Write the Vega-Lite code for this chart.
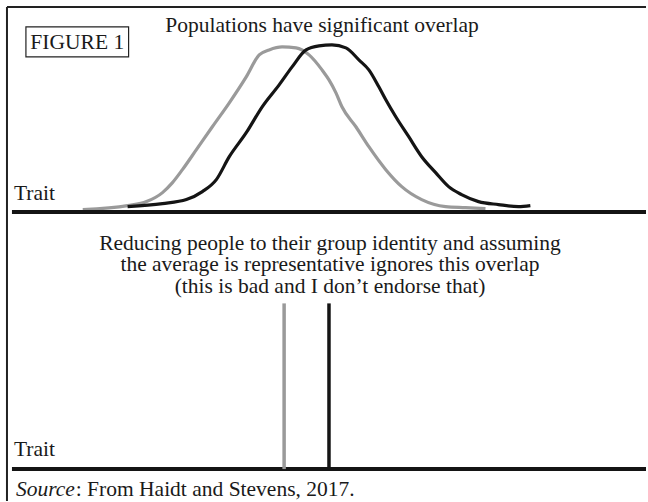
{
  "$schema": "https://vega.github.io/schema/vega-lite/v6.json",
  "width": 648,
  "height": 502,
  "autosize": {"type": "fit", "contains": "padding"},
  "padding": 0,
  "background": "white",
  "config": {"view": {"stroke": null}},
  "datasets": {
    "frame": [
      {"x": 7, "y": 7, "x2": 7, "y2": 502},
      {"x": 7, "y": 7, "x2": 648, "y2": 7}
    ],
    "box": [{"x": 26, "y": 27, "x2": 129, "y2": 57}],
    "baselines": [
      {"x": 12, "y": 212.5, "x2": 648, "y2": 212.5},
      {"x": 12, "y": 470, "x2": 648, "y2": 470}
    ],
    "means": [
      {"group": "A", "x": 285, "y": 304, "y2": 470},
      {"group": "B", "x": 330, "y": 304, "y2": 470}
    ],
    "curves": [
      {"group": "A", "i": 1, "x": 83, "y": 210},
      {"group": "A", "i": 2, "x": 128, "y": 206},
      {"group": "A", "i": 3, "x": 147, "y": 202},
      {"group": "A", "i": 4, "x": 163, "y": 193},
      {"group": "A", "i": 5, "x": 173, "y": 183},
      {"group": "A", "i": 6, "x": 183, "y": 170},
      {"group": "A", "i": 7, "x": 197, "y": 150},
      {"group": "A", "i": 8, "x": 213, "y": 127},
      {"group": "A", "i": 9, "x": 230, "y": 103},
      {"group": "A", "i": 10, "x": 247, "y": 77},
      {"group": "A", "i": 11, "x": 260, "y": 55},
      {"group": "A", "i": 12, "x": 270, "y": 50},
      {"group": "A", "i": 13, "x": 283, "y": 47},
      {"group": "A", "i": 14, "x": 297, "y": 48},
      {"group": "A", "i": 15, "x": 310, "y": 55},
      {"group": "A", "i": 16, "x": 323, "y": 70},
      {"group": "A", "i": 17, "x": 330, "y": 80},
      {"group": "A", "i": 18, "x": 337, "y": 93},
      {"group": "A", "i": 19, "x": 343, "y": 107},
      {"group": "A", "i": 20, "x": 357, "y": 127},
      {"group": "A", "i": 21, "x": 370, "y": 147},
      {"group": "A", "i": 22, "x": 387, "y": 170},
      {"group": "A", "i": 23, "x": 403, "y": 187},
      {"group": "A", "i": 24, "x": 423, "y": 200},
      {"group": "A", "i": 25, "x": 447, "y": 207},
      {"group": "A", "i": 26, "x": 467, "y": 208},
      {"group": "A", "i": 27, "x": 487, "y": 209},
      {"group": "B", "i": 1, "x": 128, "y": 207},
      {"group": "B", "i": 2, "x": 163, "y": 204},
      {"group": "B", "i": 3, "x": 187, "y": 200},
      {"group": "B", "i": 4, "x": 203, "y": 192},
      {"group": "B", "i": 5, "x": 217, "y": 180},
      {"group": "B", "i": 6, "x": 230, "y": 157},
      {"group": "B", "i": 7, "x": 247, "y": 133},
      {"group": "B", "i": 8, "x": 263, "y": 107},
      {"group": "B", "i": 9, "x": 280, "y": 85},
      {"group": "B", "i": 10, "x": 293, "y": 67},
      {"group": "B", "i": 11, "x": 307, "y": 50},
      {"group": "B", "i": 12, "x": 320, "y": 46},
      {"group": "B", "i": 13, "x": 333, "y": 45},
      {"group": "B", "i": 14, "x": 347, "y": 48},
      {"group": "B", "i": 15, "x": 360, "y": 60},
      {"group": "B", "i": 16, "x": 370, "y": 70},
      {"group": "B", "i": 17, "x": 380, "y": 87},
      {"group": "B", "i": 18, "x": 387, "y": 100},
      {"group": "B", "i": 19, "x": 397, "y": 117},
      {"group": "B", "i": 20, "x": 410, "y": 137},
      {"group": "B", "i": 21, "x": 423, "y": 157},
      {"group": "B", "i": 22, "x": 437, "y": 173},
      {"group": "B", "i": 23, "x": 450, "y": 187},
      {"group": "B", "i": 24, "x": 463, "y": 195},
      {"group": "B", "i": 25, "x": 480, "y": 202},
      {"group": "B", "i": 26, "x": 500, "y": 205},
      {"group": "B", "i": 27, "x": 520, "y": 207},
      {"group": "B", "i": 28, "x": 532, "y": 206}
    ],
    "centerText": [
      {"text": "Populations have significant overlap", "x": 323, "y": 32},
      {"text": "FIGURE 1", "x": 77.5, "y": 49},
      {"text": "Reducing people to their group identity and assuming", "x": 331, "y": 250},
      {"text": "the average is representative ignores this overlap", "x": 331, "y": 272},
      {"text": "(this is bad and I don’t endorse that)", "x": 331, "y": 294}
    ],
    "leftText": [
      {"text": "Trait", "x": 14, "y": 200},
      {"text": "Trait", "x": 14, "y": 457},
      {"text": ": From Haidt and Stevens, 2017.", "x": 76, "y": 497}
    ],
    "italicText": [
      {"text": "Source", "x": 16, "y": 497}
    ]
  },
  "layer": [
    {
      "data": {"name": "frame"},
      "mark": {"type": "rule", "stroke": "#222222", "strokeWidth": 2},
      "encoding": {
        "x": {"field": "x", "type": "quantitative", "scale": {"domain": [0, 648]}, "axis": null},
        "x2": {"field": "x2"},
        "y": {"field": "y", "type": "quantitative", "scale": {"domain": [0, 502], "reverse": true}, "axis": null},
        "y2": {"field": "y2"}
      }
    },
    {
      "data": {"name": "box"},
      "mark": {"type": "rect", "fill": null, "fillOpacity": 0, "stroke": "#222222", "strokeWidth": 1.2},
      "encoding": {
        "x": {"field": "x", "type": "quantitative", "scale": {"domain": [0, 648]}, "axis": null},
        "x2": {"field": "x2"},
        "y": {"field": "y", "type": "quantitative", "scale": {"domain": [0, 502], "reverse": true}, "axis": null},
        "y2": {"field": "y2"}
      }
    },
    {
      "data": {"name": "curves"},
      "mark": {"type": "line", "interpolate": "monotone", "strokeWidth": 3.2, "strokeCap": "butt", "strokeJoin": "round"},
      "encoding": {
        "x": {"field": "x", "type": "quantitative", "scale": {"domain": [0, 648]}, "axis": null},
        "y": {"field": "y", "type": "quantitative", "scale": {"domain": [0, 502], "reverse": true}, "axis": null},
        "order": {"field": "i", "type": "quantitative"},
        "color": {"field": "group", "type": "nominal", "scale": {"domain": ["A", "B"], "range": ["#9a9a9a", "#141414"]}, "legend": null}
      }
    },
    {
      "data": {"name": "baselines"},
      "mark": {"type": "rule", "stroke": "#141414", "strokeWidth": 4},
      "encoding": {
        "x": {"field": "x", "type": "quantitative", "scale": {"domain": [0, 648]}, "axis": null},
        "x2": {"field": "x2"},
        "y": {"field": "y", "type": "quantitative", "scale": {"domain": [0, 502], "reverse": true}, "axis": null},
        "y2": {"field": "y2"}
      }
    },
    {
      "data": {"name": "means"},
      "mark": {"type": "rule", "strokeWidth": 3.5},
      "encoding": {
        "x": {"field": "x", "type": "quantitative", "scale": {"domain": [0, 648]}, "axis": null},
        "y": {"field": "y", "type": "quantitative", "scale": {"domain": [0, 502], "reverse": true}, "axis": null},
        "y2": {"field": "y2"},
        "color": {"field": "group", "type": "nominal", "scale": {"domain": ["A", "B"], "range": ["#9a9a9a", "#141414"]}, "legend": null}
      }
    },
    {
      "data": {"name": "centerText"},
      "mark": {"type": "text", "font": "Liberation Serif", "fontSize": 21.5, "align": "center", "baseline": "alphabetic", "color": "#1a1a1a"},
      "encoding": {
        "x": {"field": "x", "type": "quantitative", "scale": {"domain": [0, 648]}, "axis": null},
        "y": {"field": "y", "type": "quantitative", "scale": {"domain": [0, 502], "reverse": true}, "axis": null},
        "text": {"field": "text"}
      }
    },
    {
      "data": {"name": "leftText"},
      "mark": {"type": "text", "font": "Liberation Serif", "fontSize": 21.5, "align": "left", "baseline": "alphabetic", "color": "#1a1a1a"},
      "encoding": {
        "x": {"field": "x", "type": "quantitative", "scale": {"domain": [0, 648]}, "axis": null},
        "y": {"field": "y", "type": "quantitative", "scale": {"domain": [0, 502], "reverse": true}, "axis": null},
        "text": {"field": "text"}
      }
    },
    {
      "data": {"name": "italicText"},
      "mark": {"type": "text", "font": "Liberation Serif", "fontSize": 21.5, "fontStyle": "italic", "align": "left", "baseline": "alphabetic", "color": "#1a1a1a"},
      "encoding": {
        "x": {"field": "x", "type": "quantitative", "scale": {"domain": [0, 648]}, "axis": null},
        "y": {"field": "y", "type": "quantitative", "scale": {"domain": [0, 502], "reverse": true}, "axis": null},
        "text": {"field": "text"}
      }
    }
  ]
}
